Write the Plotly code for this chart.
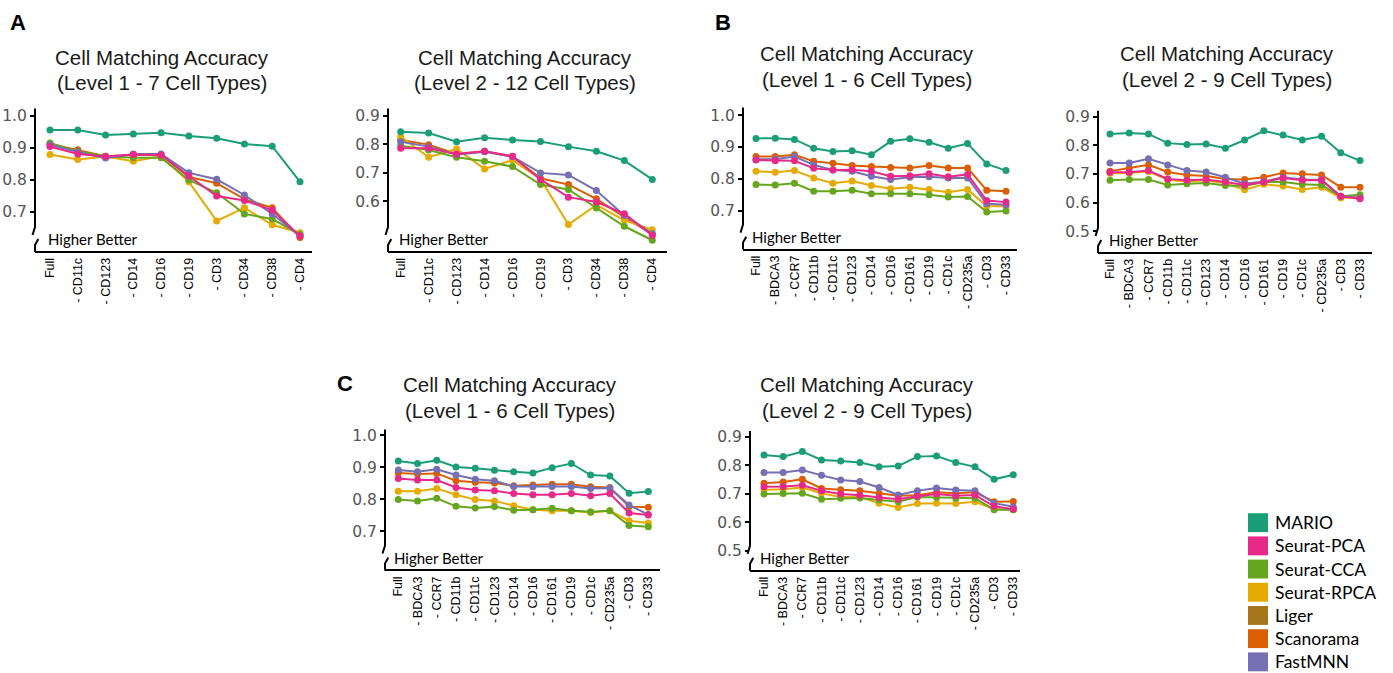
import plotly.graph_objects as go

W, H = 1393, 673

# ---------------- data ----------------
methods = ["MARIO", "Seurat-PCA", "Seurat-CCA", "Seurat-RPCA", "Liger", "Scanorama", "FastMNN"]
colors = {
    "MARIO": "#1b9e77",
    "Seurat-PCA": "#e7298a",
    "Seurat-CCA": "#66a61e",
    "Seurat-RPCA": "#e6ab02",
    "Liger": "#a6761d",
    "Scanorama": "#d95f02",
    "FastMNN": "#7570b3",
}
draw_order = ["Scanorama", "Seurat-RPCA", "Seurat-CCA", "FastMNN", "Seurat-PCA", "MARIO"]

markers_a = ["Full", "- CD11c", "- CD123", "- CD14", "- CD16", "- CD19", "- CD3", "- CD34", "- CD38", "- CD4"]
markers_bc = ["Full", "- BDCA3", "- CCR7", "- CD11b", "- CD11c", "- CD123", "- CD14", "- CD16",
              "- CD161", "- CD19", "- CD1c", "- CD235a", "- CD3", "- CD33"]

# Panel A, level 1 (7 cell types)
a1_mario = [0.956, 0.956, 0.940, 0.943, 0.947, 0.937, 0.930, 0.912, 0.905, 0.794]
a1_pca = [0.904, 0.881, 0.873, 0.879, 0.878, 0.812, 0.750, 0.736, 0.706, 0.625]
a1_cca = [0.915, 0.889, 0.874, 0.869, 0.869, 0.800, 0.760, 0.694, 0.678, 0.630]
a1_rpca = [0.879, 0.864, 0.873, 0.858, 0.874, 0.794, 0.672, 0.713, 0.660, 0.635]
a1_scan = [0.912, 0.894, 0.874, 0.878, 0.878, 0.809, 0.790, 0.740, 0.713, 0.620]
a1_fmnn = [0.910, 0.887, 0.868, 0.881, 0.881, 0.822, 0.802, 0.753, 0.694, 0.626]

# Panel A, level 2 (12 cell types)
a2_mario = [0.844, 0.840, 0.809, 0.823, 0.815, 0.810, 0.792, 0.776, 0.743, 0.677]
a2_pca = [0.786, 0.786, 0.766, 0.776, 0.758, 0.677, 0.615, 0.598, 0.557, 0.481]
a2_cca = [0.795, 0.780, 0.755, 0.741, 0.722, 0.659, 0.642, 0.577, 0.513, 0.464]
a2_rpca = [0.827, 0.755, 0.784, 0.714, 0.745, 0.679, 0.519, 0.588, 0.534, 0.501]
a2_scan = [0.815, 0.799, 0.766, 0.776, 0.757, 0.681, 0.659, 0.609, 0.545, 0.485]
a2_fmnn = [0.809, 0.792, 0.764, 0.774, 0.757, 0.700, 0.693, 0.638, 0.551, 0.487]

# Panel B, level 1 (6 cell types)
b1_mario = [0.927, 0.928, 0.924, 0.896, 0.886, 0.888, 0.876, 0.918, 0.926, 0.915, 0.896, 0.911, 0.847, 0.826]
b1_pca = [0.859, 0.857, 0.857, 0.833, 0.828, 0.829, 0.824, 0.808, 0.810, 0.816, 0.807, 0.814, 0.732, 0.727]
b1_cca = [0.782, 0.781, 0.786, 0.761, 0.761, 0.764, 0.753, 0.753, 0.753, 0.750, 0.743, 0.745, 0.696, 0.699]
b1_rpca = [0.824, 0.821, 0.826, 0.803, 0.786, 0.793, 0.779, 0.769, 0.774, 0.767, 0.758, 0.767, 0.714, 0.714]
b1_scan = [0.870, 0.870, 0.876, 0.855, 0.849, 0.842, 0.839, 0.836, 0.834, 0.842, 0.834, 0.834, 0.764, 0.761]
b1_fmnn = [0.862, 0.862, 0.870, 0.844, 0.828, 0.824, 0.808, 0.798, 0.805, 0.807, 0.803, 0.803, 0.722, 0.719]

# Panel B, level 2 (9 cell types)
b2_mario = [0.840, 0.843, 0.840, 0.808, 0.803, 0.805, 0.790, 0.819, 0.851, 0.836, 0.819, 0.832, 0.774, 0.747]
b2_pca = [0.706, 0.706, 0.712, 0.683, 0.678, 0.681, 0.672, 0.662, 0.672, 0.686, 0.678, 0.678, 0.622, 0.614]
b2_cca = [0.678, 0.681, 0.681, 0.662, 0.666, 0.669, 0.660, 0.658, 0.672, 0.672, 0.664, 0.662, 0.622, 0.628]
b2_rpca = [0.703, 0.704, 0.709, 0.680, 0.674, 0.678, 0.668, 0.645, 0.664, 0.658, 0.646, 0.654, 0.616, 0.620]
b2_scan = [0.710, 0.720, 0.732, 0.707, 0.697, 0.693, 0.683, 0.681, 0.689, 0.704, 0.701, 0.697, 0.654, 0.654]
b2_fmnn = [0.739, 0.739, 0.753, 0.732, 0.712, 0.707, 0.689, 0.666, 0.674, 0.689, 0.681, 0.680, 0.622, 0.616]

# Panel C, level 1 (6 cell types)
c1_mario = [0.920, 0.912, 0.922, 0.901, 0.897, 0.891, 0.886, 0.882, 0.899, 0.912, 0.876, 0.873, 0.819, 0.824]
c1_pca = [0.865, 0.860, 0.860, 0.837, 0.829, 0.827, 0.818, 0.814, 0.814, 0.818, 0.811, 0.818, 0.757, 0.751]
c1_cca = [0.799, 0.795, 0.803, 0.778, 0.773, 0.777, 0.766, 0.767, 0.772, 0.764, 0.761, 0.764, 0.718, 0.714]
c1_rpca = [0.825, 0.825, 0.834, 0.814, 0.799, 0.795, 0.780, 0.767, 0.764, 0.764, 0.759, 0.764, 0.733, 0.726]
c1_scan = [0.882, 0.879, 0.881, 0.858, 0.853, 0.851, 0.842, 0.845, 0.847, 0.847, 0.839, 0.837, 0.777, 0.775]
c1_fmnn = [0.892, 0.886, 0.894, 0.876, 0.863, 0.858, 0.840, 0.839, 0.840, 0.840, 0.834, 0.835, 0.782, 0.752]

# Panel C, level 2 (9 cell types)
c2_mario = [0.837, 0.831, 0.849, 0.819, 0.816, 0.810, 0.795, 0.798, 0.831, 0.833, 0.810, 0.795, 0.751, 0.767]
c2_pca = [0.725, 0.726, 0.730, 0.711, 0.699, 0.695, 0.687, 0.681, 0.691, 0.699, 0.693, 0.696, 0.656, 0.646]
c2_cca = [0.699, 0.701, 0.702, 0.681, 0.684, 0.685, 0.678, 0.672, 0.689, 0.687, 0.684, 0.684, 0.644, 0.644]
c2_rpca = [0.714, 0.716, 0.722, 0.702, 0.689, 0.689, 0.667, 0.652, 0.666, 0.667, 0.666, 0.672, 0.646, 0.644]
c2_scan = [0.737, 0.742, 0.751, 0.719, 0.714, 0.711, 0.702, 0.693, 0.695, 0.705, 0.702, 0.705, 0.672, 0.673]
c2_fmnn = [0.775, 0.775, 0.784, 0.765, 0.749, 0.743, 0.722, 0.696, 0.711, 0.720, 0.713, 0.711, 0.667, 0.654]

panel_data = [
    (markers_a, {"MARIO": a1_mario, "Seurat-PCA": a1_pca, "Seurat-CCA": a1_cca,
                 "Seurat-RPCA": a1_rpca, "Scanorama": a1_scan, "FastMNN": a1_fmnn}),
    (markers_a, {"MARIO": a2_mario, "Seurat-PCA": a2_pca, "Seurat-CCA": a2_cca,
                 "Seurat-RPCA": a2_rpca, "Scanorama": a2_scan, "FastMNN": a2_fmnn}),
    (markers_bc, {"MARIO": b1_mario, "Seurat-PCA": b1_pca, "Seurat-CCA": b1_cca,
                  "Seurat-RPCA": b1_rpca, "Scanorama": b1_scan, "FastMNN": b1_fmnn}),
    (markers_bc, {"MARIO": b2_mario, "Seurat-PCA": b2_pca, "Seurat-CCA": b2_cca,
                  "Seurat-RPCA": b2_rpca, "Scanorama": b2_scan, "FastMNN": b2_fmnn}),
    (markers_bc, {"MARIO": c1_mario, "Seurat-PCA": c1_pca, "Seurat-CCA": c1_cca,
                  "Seurat-RPCA": c1_rpca, "Scanorama": c1_scan, "FastMNN": c1_fmnn}),
    (markers_bc, {"MARIO": c2_mario, "Seurat-PCA": c2_pca, "Seurat-CCA": c2_cca,
                  "Seurat-RPCA": c2_rpca, "Scanorama": c2_scan, "FastMNN": c2_fmnn}),
]

titles = [
    ("Cell Matching Accuracy", "(Level 1 - 7 Cell Types)"),
    ("Cell Matching Accuracy", "(Level 2 - 12 Cell Types)"),
    ("Cell Matching Accuracy", "(Level 1 - 6 Cell Types)"),
    ("Cell Matching Accuracy", "(Level 2 - 9 Cell Types)"),
    ("Cell Matching Accuracy", "(Level 1 - 6 Cell Types)"),
    ("Cell Matching Accuracy", "(Level 2 - 9 Cell Types)"),
]
y_ticks = [
    [0.7, 0.8, 0.9, 1.0],
    [0.6, 0.7, 0.8, 0.9],
    [0.7, 0.8, 0.9, 1.0],
    [0.5, 0.6, 0.7, 0.8, 0.9],
    [0.7, 0.8, 0.9, 1.0],
    [0.5, 0.6, 0.7, 0.8, 0.9],
]
y_ranges = [
    [0.5786, 1.0227],
    [0.4267, 0.9255],
    [0.5810, 1.0241],
    [0.4280, 0.9209],
    [0.5804, 1.0187],
    [0.4323, 0.9210],
]

# ---------------- layout geometry (pixels) ----------------
# x0/x1: left/right end of the axes box, xf/xl: first/last category centre,
# yt/yb: top/bottom of the axes box, title centre and line positions
geom = [
    dict(x0=35, x1=312, xf=50, xl=300, yt=106, yb=249, tx=162, ty1=54.5, ty2=79.5, hb=11),
    dict(x0=388, x1=667, xf=400.7, xl=652.3, yt=106, yb=249, tx=525, ty1=54.5, ty2=79.5, hb=9),
    dict(x0=743, x1=1017, xf=756, xl=1006, yt=105, yb=246.7, tx=867, ty1=50.5, ty2=76.5, hb=7),
    dict(x0=1098, x1=1372, xf=1110, xl=1360, yt=108.3, yb=250, tx=1227, ty1=50.5, ty2=76.5, hb=9),
    dict(x0=385, x1=660, xf=398.3, xl=648.3, yt=428.3, yb=569, tx=510, ty1=383, ty2=409, hb=7),
    dict(x0=750, x1=1020, xf=764, xl=1013.3, yt=430, yb=569.3, tx=867, ty1=383, ty2=409, hb=8),
]


def px(x):
    return x / W


def py(y):
    return 1 - y / H


fig = go.Figure()
layout = {}
shapes = []
annotations = []

title_font = dict(family="Liberation Sans, Arial, sans-serif", size=20.5, color="#1a1a1a")

for i, ((cats, series), g) in enumerate(zip(panel_data, geom), start=1):
    xa = "x" if i == 1 else f"x{i}"
    ya = "y" if i == 1 else f"y{i}"
    n = len(cats)
    sp = (g["xl"] - g["xf"]) / (n - 1)

    for m in draw_order:
        fig.add_trace(go.Scatter(
            x=cats, y=series[m], mode="lines+markers", name=m,
            line=dict(color=colors[m], width=2),
            marker=dict(color=colors[m], size=7),
            showlegend=False, xaxis=xa, yaxis=ya,
        ))

    layout["xaxis" if i == 1 else f"xaxis{i}"] = dict(
        domain=[px(g["x0"]), px(g["x1"])], anchor=ya,
        type="category", range=[(g["x0"] - g["xf"]) / sp, (g["x1"] - g["xf"]) / sp],
        showline=True, linecolor="black", linewidth=2, ticks="",
        tickangle=-90, showgrid=False, zeroline=False,
        tickfont=dict(family="Liberation Sans, Arial, sans-serif", size=12.5, color="black"),
    )
    layout["yaxis" if i == 1 else f"yaxis{i}"] = dict(
        domain=[py(g["yb"]), py(g["yt"])], anchor=xa,
        range=y_ranges[i - 1], tickvals=y_ticks[i - 1], tickformat=".1f",
        showline=False, showgrid=False, zeroline=False,
        ticks="outside", ticklen=4, tickwidth=1.5, tickcolor="black",
        tickfont=dict(family="DejaVu Sans, sans-serif", size=15.5, color="#555555"),
    )

    # broken y axis line
    x0, yb, yt = g["x0"], g["yb"], g["yt"]
    line_style = dict(color="black", width=2)
    shapes.append(dict(type="path", xref="paper", yref="paper",
                       path=f"M {px(x0)},{py(yt)} L {px(x0)},{py(yb - 24)} L {px(x0 - 2.5)},{py(yb - 16)}",
                       line=line_style))
    shapes.append(dict(type="path", xref="paper", yref="paper",
                       path=f"M {px(x0 + 3.3)},{py(yb - 12)} L {px(x0)},{py(yb - 6)} L {px(x0)},{py(yb + 1)}",
                       line=line_style))

    annotations.append(dict(text="Higher Better", xref="paper", yref="paper",
                            x=px(x0 + g["hb"]), y=py(yb - 12), xanchor="left", yanchor="middle",
                            showarrow=False,
                            font=dict(family="Lato, Open Sans, sans-serif", size=15, color="black")))
    for txt, ty in ((titles[i - 1][0], g["ty1"]), (titles[i - 1][1], g["ty2"])):
        annotations.append(dict(text=txt, xref="paper", yref="paper", x=px(g["tx"]), y=py(ty),
                                xanchor="center", yanchor="middle", showarrow=False, font=title_font))

# panel letters
for letter, lx, ly in (("A", 18, 20), ("B", 723, 20), ("C", 345, 382)):
    annotations.append(dict(text=f"<b>{letter}</b>", xref="paper", yref="paper", x=px(lx), y=py(ly),
                            xanchor="center", yanchor="middle", showarrow=False,
                            font=dict(family="Liberation Sans, Arial, sans-serif", size=22, color="black")))

# legend: coloured squares with method names
for k, m in enumerate(methods):
    cy = 522 + 23.3 * k
    shapes.append(dict(type="rect", xref="paper", yref="paper",
                       x0=px(1248), x1=px(1268), y0=py(cy + 9.5), y1=py(cy - 9.5),
                       fillcolor=colors[m], line=dict(width=0)))
    annotations.append(dict(text=m, xref="paper", yref="paper", x=px(1273), y=py(cy),
                            xanchor="left", yanchor="middle", showarrow=False,
                            font=dict(family="Lato, Open Sans, sans-serif", size=17.5, color="black")))

fig.update_layout(
    width=W, height=H, margin=dict(l=0, r=0, t=0, b=0),
    paper_bgcolor="white", plot_bgcolor="white",
    showlegend=False, shapes=shapes, annotations=annotations, **layout,
)

fig.write_html("out.html")
